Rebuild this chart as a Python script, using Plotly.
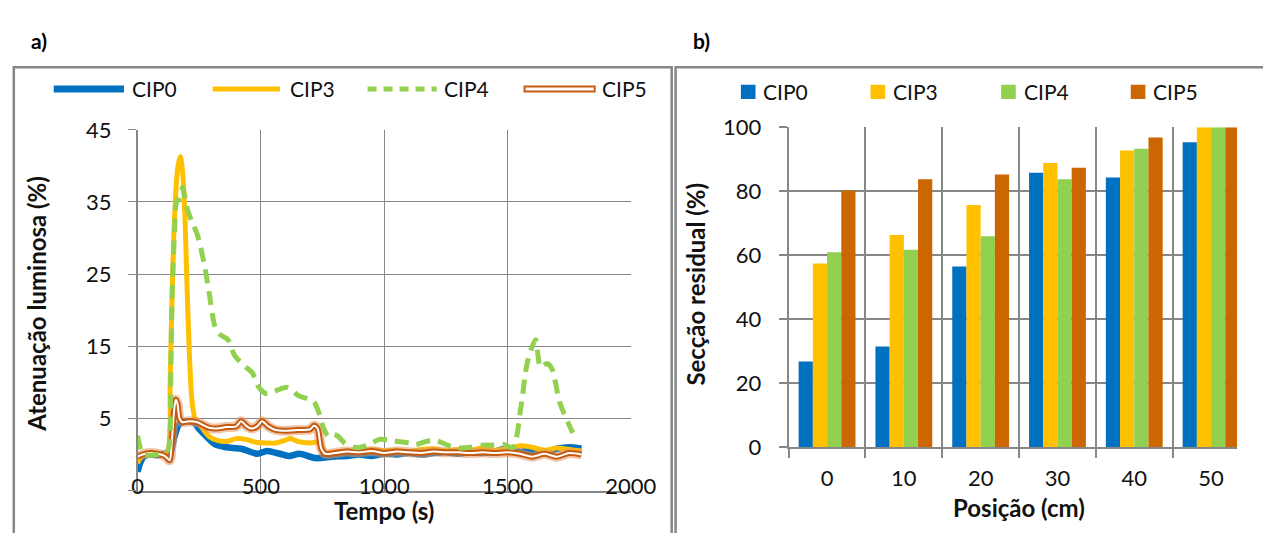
import plotly.graph_objects as go

W, H = 1263, 533

# ---------------- panel a) : light attenuation vs time ----------------
t_cip0 = [0, 10, 25, 50, 80, 110, 125, 135, 150, 165, 180, 200, 230, 250, 276, 315, 360, 420, 486, 525,
          577, 617, 656, 722, 787, 850, 900, 950, 1000, 1050, 1100, 1150, 1200, 1250, 1300, 1350, 1400,
          1450, 1500, 1520, 1550, 1600, 1650, 1700, 1750, 1800]
v_cip0 = [-2.4, -1.2, -0.3, 0.0, -0.1, 0.1, -0.3, 0.3, 2.5, 4.0, 4.5, 4.6, 4.4, 3.5, 2.6, 1.4, 1.0, 0.8, 0.1, 0.5,
          0.1, -0.2, 0.1, -0.5, -0.3, -0.2, 0.0, -0.2, 0.1, 0.0, 0.2, 0.0, 0.2, 0.3, 0.1, 0.3, 0.2,
          0.4, 0.9, 0.7, 0.4, 0.5, 0.3, 0.8, 1.0, 0.8]

t_cip3 = [0, 15, 40, 80, 110, 125, 132, 140, 150, 162, 173, 183, 192, 200, 210, 222, 235, 250, 270, 290,
          320, 360, 400, 440, 480, 520, 560, 600, 620, 650, 700, 740, 755, 770, 800, 850, 900, 950, 1000,
          1050, 1100, 1150, 1200, 1250, 1300, 1350, 1400, 1450, 1500, 1550, 1600, 1650, 1700, 1750, 1800]
v_cip3 = [-1.2, -0.3, 0.1, 0.0, 0.1, 0.5, 10.0, 22.0, 33.0, 39.5, 41.3, 39.0, 33.0, 24.0, 14.0, 7.0, 4.8, 4.3, 3.3, 2.5,
          2.0, 1.8, 2.2, 2.1, 1.7, 1.6, 1.6, 2.0, 2.2, 1.8, 1.6, 1.7, 0.6, 0.1, 0.3, 0.5, 0.4, 0.7, 0.5,
          0.6, 0.4, 0.7, 0.8, 0.5, 0.7, 0.6, 0.9, 0.6, 0.8, 1.2, 1.0, 0.6, 0.9, 0.7, 0.5]

t_cip4 = [0, 10, 20, 40, 80, 110, 125, 135, 140, 150, 158, 170, 182, 190, 203, 220, 243, 269, 289, 315,
          335, 350, 367, 394, 440, 466, 492, 525, 551, 580, 604, 630, 650, 690, 715, 735, 755, 774, 790,
          810, 840, 880, 905, 950, 984, 1020, 1056, 1100, 1129, 1160, 1200, 1230, 1256, 1309, 1350, 1399,
          1440, 1484, 1522, 1555, 1581, 1614, 1634, 1660, 1680, 1713, 1765]
v_cip4 = [2.6, 1.0, 0.0, -0.1, 0.0, 0.2, 0.8, 12.0, 22.0, 31.0, 35.0, 35.5, 37.0, 36.0, 33.9, 32.3, 30.4, 26.6, 22.7, 17.6,
          16.6, 16.3, 15.9, 13.7, 12.1, 11.3, 9.3, 8.4, 8.7, 9.1, 9.3, 8.8, 8.2, 7.7, 7.3, 5.8, 3.6, 2.5, 2.8,
          2.6, 1.6, 1.0, 1.0, 1.6, 2.1, 2.0, 1.8, 1.6, 1.4, 1.7, 2.0, 1.7, 1.3, 0.9, 1.0, 1.3,
          1.3, 1.4, 1.0, 6.7, 12.8, 15.9, 12.1, 12.6, 11.9, 7.1, 3.0]

t_cip5 = [0, 20, 50, 80, 110, 120, 130, 138, 148, 155, 162, 170, 180, 210, 240, 270, 290, 320, 360, 400,
          420, 440, 460, 485, 505, 530, 560, 600, 650, 700, 715, 730, 745, 760, 800, 850, 900, 950, 1000,
          1050, 1100, 1150, 1200, 1250, 1300, 1350, 1400, 1450, 1500, 1550, 1600, 1650, 1700, 1750, 1800]
v_cip5 = [-0.3, 0.0, 0.2, 0.1, -0.2, -0.5, -0.8, 1.5, 6.0, 7.6, 7.0, 5.0, 4.5, 4.6, 4.5, 4.0, 3.7, 3.6, 3.8, 3.9,
          4.6, 4.0, 3.6, 3.9, 4.6, 3.9, 3.4, 3.3, 3.4, 3.5, 4.0, 3.6, 0.8, 0.1, 0.2, 0.4, 0.3, 0.5, 0.2,
          0.4, 0.3, 0.2, 0.4, 0.3, 0.3, 0.2, 0.3, 0.2, 0.3, 0.1, -0.3, 0.1, -0.3, 0.2, 0.0]

# ---------------- panel b) : residual section vs position ----------------
positions = ["0", "10", "20", "30", "40", "50"]
sec_cip0 = [26.7, 31.4, 56.4, 85.8, 84.3, 95.3]
sec_cip3 = [57.4, 66.3, 75.7, 88.8, 92.7, 100]
sec_cip4 = [60.9, 61.7, 65.9, 83.7, 93.3, 100]
sec_cip5 = [80.2, 83.7, 85.2, 87.3, 96.8, 100]

series_names = ["CIP0", "CIP3", "CIP4", "CIP5"]

BLUE, YELLOW, GREEN = "#0070C0", "#FFC000", "#92D050"
BROWN, ORANGE = "#C55A11", "#CC6600"
GRID = "#878787"
FONT = "Lato"
TXT = "#111111"


def px(x):
    return x / W


def py(y):
    return 1 - y / H


fig = go.Figure()

spl = dict(shape="spline", smoothing=0.8)

fig.add_trace(go.Scatter(x=t_cip0, y=v_cip0, mode="lines", name="CIP0",
                         line=dict(color=BLUE, width=6.5, **spl), xaxis="x", yaxis="y"))
fig.add_trace(go.Scatter(x=t_cip3, y=v_cip3, mode="lines", name="CIP3",
                         line=dict(color=YELLOW, width=5, **spl), xaxis="x", yaxis="y"))
# CIP5: double line (halo, brown border, white core)
fig.add_trace(go.Scatter(x=t_cip5, y=v_cip5, mode="lines", name="CIP5",
                         line=dict(color="rgba(232,150,95,0.55)", width=10, **spl), xaxis="x", yaxis="y"))
fig.add_trace(go.Scatter(x=t_cip5, y=v_cip5, mode="lines", name="CIP5",
                         line=dict(color=BROWN, width=6, **spl), xaxis="x", yaxis="y"))
fig.add_trace(go.Scatter(x=t_cip5, y=v_cip5, mode="lines", name="CIP5",
                         line=dict(color="white", width=2, **spl), xaxis="x", yaxis="y"))
fig.add_trace(go.Scatter(x=t_cip4, y=v_cip4, mode="lines", name="CIP4",
                         line=dict(color=GREEN, width=5, dash="14px,8px", **spl), xaxis="x", yaxis="y"))

bar_colors = [BLUE, YELLOW, GREEN, ORANGE]
for name, vals, col in zip(series_names, [sec_cip0, sec_cip3, sec_cip4, sec_cip5], bar_colors):
    fig.add_trace(go.Bar(x=positions, y=vals, name=name, marker=dict(color=col, line=dict(width=0)),
                         xaxis="x2", yaxis="y2"))

tickfont = dict(family=FONT, size=22, color=TXT)
legfont = dict(family=FONT, size=21, color=TXT)
titlefont = dict(family=FONT, size=24, color=TXT, weight="bold")

# plot-area geometry (pixels)
a_left, a_right, a_top, a_bot = 135, 641, 122, 502
b_left, b_top, b_bot = 803, 119.3, 456
cat_w = 78.8

fig.update_layout(
    width=W, height=H, margin=dict(l=0, r=0, t=0, b=0),
    paper_bgcolor="white", plot_bgcolor="white",
    showlegend=False, barmode="group", bargap=0.26, bargroupgap=0,
    xaxis=dict(domain=[px(a_left), px(a_right)], range=[0, 2000], tickvals=[0, 500, 1000, 1500, 2000],
               showgrid=True, gridcolor=GRID, gridwidth=1, zeroline=False,
               showline=True, linecolor=GRID, linewidth=1.5, ticks="",
               tickfont=tickfont, ticklabelstandoff=-25, anchor="y"),
    yaxis=dict(domain=[py(a_bot), py(a_top)], range=[-5, 45], tickvals=[-5, 5, 15, 25, 35, 45],
               ticktext=["", "5", "15", "25", "35", "45"],
               showgrid=True, gridcolor=GRID, gridwidth=1, zeroline=False,
               showline=True, linecolor=GRID, linewidth=1.5, ticks="outside", ticklen=8, tickcolor=GRID,
               tickfont=tickfont, ticklabelstandoff=12, anchor="x"),
    xaxis2=dict(domain=[px(b_left), 1], range=[-0.5, -0.5 + (W - b_left) / cat_w],
                type="category", tickson="boundaries", ticks="outside", ticklen=9, tickcolor=GRID, tickwidth=2,
                showgrid=True, gridcolor=GRID, gridwidth=2, zeroline=False,
                showline=True, linecolor=GRID, linewidth=2,
                tickfont=tickfont, ticklabelstandoff=11, anchor="y2"),
    yaxis2=dict(domain=[py(b_bot), py(b_top)], range=[0, 100], tickvals=[0, 20, 40, 60, 80, 100],
                showgrid=True, gridcolor=GRID, gridwidth=1.5, zeroline=False,
                showline=True, linecolor=GRID, linewidth=2, ticks="outside", ticklen=8, tickcolor=GRID,
                tickwidth=1.5, tickfont=tickfont, ticklabelstandoff=13, anchor="x2"),
)

shapes = []
annotations = []

# panel frames
shapes.append(dict(type="rect", xref="paper", yref="paper", x0=px(8), x1=px(683), y0=-0.1, y1=py(56),
                   line=dict(color=GRID, width=2.5), layer="below"))
shapes.append(dict(type="rect", xref="paper", yref="paper", x0=px(687), x1=1.1, y0=-0.1, y1=py(56),
                   line=dict(color=GRID, width=2.5), layer="below"))

annotations.append(dict(text="<b>a)</b>", x=px(24), y=py(28), xref="paper", yref="paper", xanchor="left",
                        yanchor="middle", showarrow=False, font=dict(family=FONT, size=21, color="black")))
annotations.append(dict(text="<b>b)</b>", x=px(703), y=py(28), xref="paper", yref="paper", xanchor="left",
                        yanchor="middle", showarrow=False, font=dict(family=FONT, size=21, color="black")))

# axis titles
annotations.append(dict(text="<b>Atenuação luminosa (%)</b>", x=px(31), y=py(305), xref="paper", yref="paper",
                        textangle=-90, showarrow=False, font=titlefont, xanchor="center", yanchor="middle"))
annotations.append(dict(text="<b>Tempo (s)</b>", x=px(388), y=py(523), xref="paper", yref="paper",
                        showarrow=False, font=titlefont, xanchor="center", yanchor="middle"))
annotations.append(dict(text="<b>Secção residual (%)</b>", x=px(708), y=py(285), xref="paper", yref="paper",
                        textangle=-90, showarrow=False, font=titlefont, xanchor="center", yanchor="middle"))
annotations.append(dict(text="<b>Posição (cm)</b>", x=px(1039), y=py(520), xref="paper", yref="paper",
                        showarrow=False, font=titlefont, xanchor="center", yanchor="middle"))

# legend of panel a)
leg_y = py(79)
leg_a = [(49, 121, 127), (212, 281, 289), (371, 442, 447), (531, 605, 609)]
for name, (x0, x1, xt) in zip(series_names, leg_a):
    if name == "CIP0":
        shapes.append(dict(type="line", xref="paper", yref="paper", x0=px(x0), x1=px(x1), y0=leg_y, y1=leg_y,
                           line=dict(color=BLUE, width=7)))
    elif name == "CIP3":
        shapes.append(dict(type="line", xref="paper", yref="paper", x0=px(x0), x1=px(x1), y0=leg_y, y1=leg_y,
                           line=dict(color=YELLOW, width=5)))
    elif name == "CIP4":
        shapes.append(dict(type="line", xref="paper", yref="paper", x0=px(x0), x1=px(x1), y0=leg_y, y1=leg_y,
                           line=dict(color=GREEN, width=5, dash="9px,7px")))
    else:
        shapes.append(dict(type="line", xref="paper", yref="paper", x0=px(x0), x1=px(x1), y0=leg_y, y1=leg_y,
                           line=dict(color=BROWN, width=7)))
        shapes.append(dict(type="line", xref="paper", yref="paper", x0=px(x0 + 2), x1=px(x1 - 2), y0=leg_y,
                           y1=leg_y, line=dict(color="white", width=3)))
    annotations.append(dict(text=name, x=px(xt), y=leg_y, xref="paper", yref="paper", xanchor="left",
                            yanchor="middle", showarrow=False, font=legfont))

# legend of panel b)
leg_y2 = 82
leg_b = [754, 887, 1021, 1154]
for name, x0, col in zip(series_names, leg_b, bar_colors):
    shapes.append(dict(type="rect", xref="paper", yref="paper", x0=px(x0), x1=px(x0 + 15),
                       y0=py(leg_y2 + 7.5), y1=py(leg_y2 - 7.5), fillcolor=col, line=dict(width=0)))
    annotations.append(dict(text=name, x=px(x0 + 21), y=py(leg_y2), xref="paper", yref="paper",
                            xanchor="left", yanchor="middle", showarrow=False, font=legfont))

fig.update_layout(shapes=shapes, annotations=annotations)

fig.write_html("out.html")
